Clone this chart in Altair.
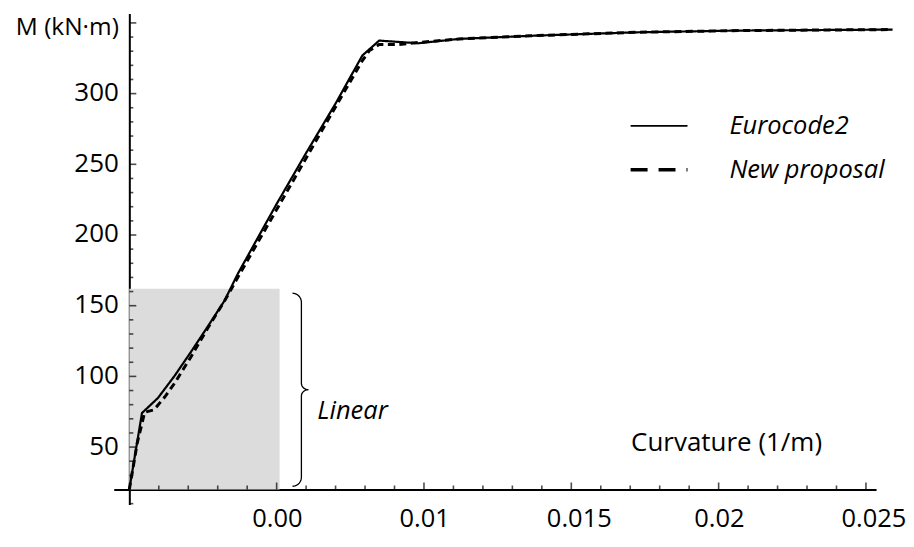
import altair as alt
import numpy as np
import pandas as pd

# ---------------- data ----------------
series_names = ["Eurocode2", "New proposal"]

ec2_curv = [0.0, 0.00043, 0.00097, 0.00154, 0.0021, 0.00266, 0.00323, 0.00368,
            0.0050, 0.0060, 0.0070, 0.00791, 0.00848, 0.0098, 0.0112, 0.0139,
            0.0173, 0.0207, 0.0259]
ec2_moment = [20, 74.1, 84.7, 100.5, 117.6, 135.2, 153.5, 172.5,
              222.0, 258.0, 293.0, 327.0, 337.5, 335.6, 338.7, 341.1,
              343.4, 344.6, 345.3]

new_curv = [0.0, 0.00027, 0.00052, 0.00084, 0.0012, 0.00154, 0.0021, 0.00266,
            0.00323, 0.00374, 0.0050, 0.0068, 0.00791, 0.00815, 0.00848,
            0.00915, 0.00989, 0.0112, 0.0139, 0.0173, 0.0207, 0.0259]
new_moment = [20, 53.0, 74.6, 76.4, 85.4, 95.3, 114.1, 134.1,
              153.3, 172.2, 218.0, 283.5, 323.4, 330.5, 334.7,
              334.7, 336.3, 338.7, 341.1, 343.4, 344.6, 345.3]

x_major_ticks = [0.005, 0.01, 0.015, 0.02, 0.025]
x_tick_labels = ["0.00", "0.01", "0.015", "0.02", "0.025"]
x_minor_ticks = [0.001, 0.002, 0.003, 0.004, 0.006, 0.007, 0.008, 0.009,
                 0.011, 0.012, 0.013, 0.014, 0.016, 0.017, 0.018, 0.019,
                 0.021, 0.022, 0.023, 0.024]
y_major_ticks = [50, 100, 150, 200, 250, 300, 350]
y_tick_labels = ["50", "100", "150", "200", "250", "300", "M (kN·m)"]
y_minor_ticks = [10, 30, 40, 60, 70, 80, 90, 110, 120, 130, 140, 160, 170, 180,
                 190, 210, 220, 230, 240, 260, 270, 280, 290, 310, 320, 330, 340]

x_axis_title = "Curvature (1/m)"
linear_zone_curv = [0.0, 0.0051]
linear_zone_moment = [20, 162]
brace_curv = [0.00554, 0.00584, 0.00608]      # ends, stem, tip
brace_moment = [22.3, 90.6, 158.8]            # bottom, middle, top
linear_label = "Linear"
linear_label_pos = [0.00638, 75.3]

# ---------------- layout ----------------
X_DOMAIN = [-0.000528, 0.025343]
Y_DOMAIN = [9.4, 356.6]
W, H = 764, 492
AXIS_Y = 20      # moment at which the curvature axis crosses
AXIS_X = 0.0     # curvature at which the moment axis crosses
FONT = "Open Sans"

x_off = -(AXIS_Y - Y_DOMAIN[0]) / (Y_DOMAIN[1] - Y_DOMAIN[0]) * H
y_off = -(AXIS_X - X_DOMAIN[0]) / (X_DOMAIN[1] - X_DOMAIN[0]) * W

xs = alt.Scale(domain=X_DOMAIN, nice=False, zero=False)
ys = alt.Scale(domain=Y_DOMAIN, nice=False, zero=False)

lines = pd.DataFrame({
    "curv": ec2_curv + new_curv,
    "M": ec2_moment + new_moment,
    "series": [series_names[0]] * len(ec2_curv) + [series_names[1]] * len(new_curv),
    "i": list(range(len(ec2_curv))) + list(range(len(new_curv))),
})


def expr_map(values, labels):
    e = ""
    for v, l in zip(values, labels):
        e += f"abs(datum.value - {v}) < 1e-9 ? '{l}' : "
    return e + "''"


x_axis = alt.Axis(
    values=x_major_ticks, labelExpr=expr_map(x_major_ticks, x_tick_labels),
    ticks=False, grid=False, domainColor="black", domainWidth=2,
    offset=x_off, labelPadding=17, labelAlign="left", labelOffset=-25,
    labelFlush=False, labelOverlap=False, labelFont=FONT, labelFontSize=25.5,
    labelColor="black", title=x_axis_title, titleFont=FONT, titleFontSize=26,
    titleFontWeight="normal", titleColor="black", titleX=518, titleY=-47,
    titleAlign="left", titleBaseline="middle", titleAngle=0,
)
y_axis = alt.Axis(
    values=y_major_ticks, labelExpr=expr_map(y_major_ticks, y_tick_labels),
    ticks=False, grid=False, domainColor="black", domainWidth=2,
    offset=y_off, labelPadding=11,
    labelOffset={"condition": {"test": "datum.value == 350", "value": 5}, "value": -1},
    labelFontSize={"condition": {"test": "datum.value == 350", "value": 24.5}, "value": 26},
    labelFlush=False,
    labelOverlap=False, labelFont=FONT, labelColor="black",
    title=None,
)

zone_df = pd.DataFrame({"x0": [linear_zone_curv[0]], "x1": [linear_zone_curv[1]],
                        "m0": [linear_zone_moment[0]], "m1": [linear_zone_moment[1]]})
zone = alt.Chart(zone_df).mark_rect(color="#dcdcdc").encode(
    x=alt.X("x0:Q", scale=xs, axis=x_axis), x2="x1:Q",
    y=alt.Y("m0:Q", scale=ys, axis=y_axis), y2="m1:Q",
)

curves = alt.Chart(lines).mark_line(color="black", clip=False).encode(
    x=alt.X("curv:Q", scale=xs),
    y=alt.Y("M:Q", scale=ys),
    order="i:Q",
    detail="series:N",
    strokeDash=alt.StrokeDash("series:N", scale=alt.Scale(domain=series_names, range=[[1, 0], [7, 4.5]]), legend=None),
    strokeWidth=alt.StrokeWidth("series:N", scale=alt.Scale(domain=series_names, range=[2.2, 3.0]), legend=None),
)

leg = alt.Legend(orient="none", legendX=516, legendY=83, title=None, symbolType="stroke",
                 symbolSize=3249, symbolStrokeColor="black", labelFont=FONT,
                 labelFontStyle="italic", labelFontSize=25.5, labelColor="black",
                 labelOffset=40, rowPadding=-3, padding=0)
legend_layer = alt.Chart(lines).transform_filter("false").mark_line(color="black").encode(
    x=alt.X("curv:Q", scale=xs),
    y=alt.Y("M:Q", scale=ys),
    strokeDash=alt.StrokeDash("series:N", scale=alt.Scale(domain=series_names, range=[[1, 0], [17, 11]]), legend=leg),
    strokeWidth=alt.StrokeWidth("series:N", scale=alt.Scale(domain=series_names, range=[1.8, 3.3]), legend=leg),
)

xminor = alt.Chart(pd.DataFrame({"v": x_minor_ticks})).mark_tick(
    orient="vertical", size=4, thickness=1.6, yOffset=-2, color="black").encode(
    x=alt.X("v:Q", scale=xs), y=alt.datum(AXIS_Y))
xmajor = alt.Chart(pd.DataFrame({"v": x_major_ticks})).mark_tick(
    orient="vertical", size=7, thickness=1.6, yOffset=-3.5, color="black").encode(
    x=alt.X("v:Q", scale=xs), y=alt.datum(AXIS_Y))
yminor = alt.Chart(pd.DataFrame({"v": y_minor_ticks})).mark_tick(
    orient="horizontal", size=4, thickness=1.6, xOffset=2, color="black").encode(
    y=alt.Y("v:Q", scale=ys), x=alt.datum(AXIS_X))
ymajor = alt.Chart(pd.DataFrame({"v": y_major_ticks})).mark_tick(
    orient="horizontal", size=7, thickness=1.6, xOffset=3.5, color="black").encode(
    y=alt.Y("v:Q", scale=ys), x=alt.datum(AXIS_X))

# brace "}" built from its extents
bx0, bx1, bx2 = brace_curv
bb, bm, bt = brace_moment
ry, ry2 = 6.5, 4.5
th = np.linspace(0, np.pi / 2, 12)
pts = []
pts += list(zip(bx0 + (bx1 - bx0) * np.cos(th[::-1]), bt - ry + ry * np.sin(th[::-1])))
pts += list(zip(bx2 - (bx2 - bx1) * np.cos(th), bm + ry2 - ry2 * np.sin(th)))
pts += list(zip(bx2 - (bx2 - bx1) * np.cos(th[::-1]), bm - ry2 + ry2 * np.sin(th[::-1])))
pts += list(zip(bx0 + (bx1 - bx0) * np.cos(th), bb + ry - ry * np.sin(th)))
brace_df = pd.DataFrame({"curv": [p[0] for p in pts], "M": [p[1] for p in pts],
                         "i": list(range(len(pts)))})
brace = alt.Chart(brace_df).mark_line(color="black", strokeWidth=1.3).encode(
    x=alt.X("curv:Q", scale=xs), y=alt.Y("M:Q", scale=ys), order="i:Q")

label_df = pd.DataFrame({"curv": [linear_label_pos[0]], "M": [linear_label_pos[1]],
                         "t": [linear_label]})
label = alt.Chart(label_df).mark_text(font=FONT, fontSize=25.5, fontStyle="italic",
                                      align="left", baseline="middle", color="black").encode(
    x=alt.X("curv:Q", scale=xs), y=alt.Y("M:Q", scale=ys), text="t:N")

chart = alt.layer(zone, curves, legend_layer, xminor, xmajor, yminor, ymajor, brace, label).resolve_scale(
    strokeDash="independent", strokeWidth="independent"
).properties(
    width=W, height=H, autosize=alt.AutoSizeParams(type="none"),
    padding={"left": 106, "top": 5, "right": 30, "bottom": 40},
    background="white",
).configure_view(stroke=None)

chart.save("out.html", embed_options={"renderer": "svg", "actions": False})
